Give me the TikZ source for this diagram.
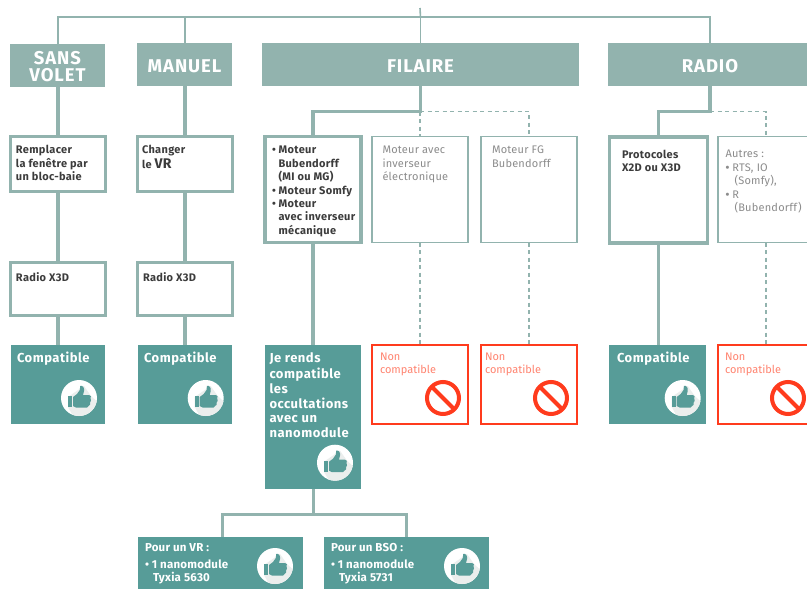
\documentclass[tikz,border=0pt]{standalone}
\usepackage{fontspec}
\setmainfont{Fira Sans}
\definecolor{lineC}{HTML}{92B3AE}
\definecolor{tealC}{HTML}{579C98}
\definecolor{redC}{HTML}{FF3B1D}
\definecolor{redT}{HTML}{FF8470}
\definecolor{greyT}{HTML}{8C8C8C}
\definecolor{darkT}{HTML}{3C3C3C}
\definecolor{shadeC}{HTML}{EBEEED}
\newcommand{\tbox}[9]{\node[#1,anchor=north west,inner sep=0pt,outer sep=0pt] (#2) at (#3,#4) {\parbox[c][#6pt][t]{#5pt}{\vspace*{#8pt}\leftskip=#7pt\rightskip=0pt plus 1fil\parindent=0pt\strut #9}};}
\newcommand{\thumbicon}[2]{\begin{scope}[shift={(#1,#2)}]
\fill[white] (0,0) circle (18);
\begin{scope}\clip (0,0) circle (18);
\fill[shadeC] (-11,9) -- (-11,-1) -- (5,-12) -- (12,-2) -- (25,10) -- (10,25) -- (-2,25) -- cycle;
\end{scope}
\fill[tealC] (-11,-2) rectangle (-7,9);
\fill[tealC] (-6,-1) -- (-2,-4) -- (0.8,-8) -- (1.2,-12) .. controls (4,-13) and (5.5,-10) .. (5,-7) -- (4,-3) -- (10,-3) .. controls (12,-3) and (12.5,-1) .. (11.5,0) .. controls (12.5,2) and (12,4) .. (11,4.5) .. controls (11.5,6) and (11,7.5) .. (9.5,8) .. controls (9.5,9) and (9,9.5) .. (8,9.5) -- (-3,9.5) -- (-6,8) -- cycle;
\end{scope}}
\newcommand{\noicon}[2]{\begin{scope}[shift={(#1,#2)}]
\draw[redC,line width=4pt] (0,0) circle (16);
\draw[redC,line width=4pt] (-11.3,-11.3) -- (11.3,11.3);
\end{scope}}
\newcommand{\hdstrut}{\rule{0pt}{16pt}}
\tikzset{
 x=1pt,y=-1pt,
 head/.style={fill=lineC,text=white,font=\fontsize{18.5}{17}\selectfont\bfseries\addfontfeature{LetterSpace=5},align=center,inner sep=0pt,outer sep=0pt},
 thickbox/.style={draw=lineC,line width=3.2pt,fill=white,text=darkT,font=\fontsize{11}{13.4}\selectfont\bfseries\addfontfeature{LetterSpace=3}},
 thinbox/.style={draw=lineC,line width=1.3pt,fill=white,text=greyT,font=\fontsize{11}{13.4}\selectfont\addfontfeature{LetterSpace=2}},
 okbox/.style={fill=tealC,text=white,font=\fontsize{13}{14.7}\selectfont\bfseries\addfontfeature{LetterSpace=4}},
 modbox/.style={fill=tealC,text=white,font=\fontsize{11.5}{13.4}\selectfont\bfseries\addfontfeature{LetterSpace=2}},
 nobox/.style={draw=redC,line width=1.5pt,fill=white,text=redT,font=\fontsize{11}{13.4}\selectfont},
 thickline/.style={draw=lineC,line width=3.6pt},
 thinline/.style={draw=lineC,line width=1.6pt},
 dashline/.style={draw=lineC,line width=1.3pt,dash pattern=on 4pt off 3.5pt},
}
\begin{document}
\begin{tikzpicture}
\clip (0,0) rectangle (807,589);
\fill[white] (0,0) rectangle (807,589);
% headers
\node[head,anchor=north west,minimum width=95pt,minimum height=43pt] (sv) at (10,44) {\hdstrut SANS\\VOLET};
\node[head,anchor=north west,minimum width=95pt,minimum height=43pt] (man) at (137,43) {\hdstrut MANUEL};
\node[head,anchor=north west,minimum width=317pt,minimum height=43pt] (fil) at (262,43) {\hdstrut FILAIRE};
\node[head,anchor=north west,minimum width=204pt,minimum height=43pt,text width=199pt] (rad) at (608,43) {\hdstrut RADIO};
% second row
\tbox{thickbox}{rem}{10.5}{136.5}{95}{55}{5.5}{8.1}{Remplacer\\la fenêtre par\\un bloc-baie}
\tbox{thickbox}{cha}{137.5}{136.5}{95}{55}{4.5}{8.1}{Changer\\le {\fontsize{14}{13}\selectfont VR}}
\tbox{thickbox}{mot}{265}{136.5}{96}{106}{7}{8.1}{• Moteur\\\hspace*{6.5pt}Bubendorff\\\hspace*{6.5pt}(MI ou MG)\\• Moteur Somfy\\• Moteur\\\hspace*{6.5pt}avec inverseur\\\hspace*{6.5pt}mécanique}
\tbox{thinbox}{inv}{372}{136.5}{96}{106}{10.5}{8.1}{Moteur avec\\inverseur\\électronique}
\tbox{thinbox}{fg}{481}{136.5}{96}{106}{11}{8.1}{Moteur FG\\Bubendorff}
\tbox{thickbox}{pro}{609.5}{137}{98}{106}{12.5}{11.7}{Protocoles\\X2D ou X3D}
\tbox{thinbox}{aut}{718}{136.5}{96}{106}{7.5}{12.1}{Autres :\\{\bfseries•} RTS, IO\\\hspace*{9pt}(Somfy),\\{\bfseries•} R\\\hspace*{9pt}(Bubendorff)}
% radio row
\tbox{thickbox}{rx1}{10.5}{262.5}{95}{53}{5.5}{9.2}{Radio X3D}
\tbox{thickbox}{rx2}{137.5}{262.5}{95}{53}{5.5}{9.2}{Radio X3D}
% result row
\tbox{okbox}{ok1}{11}{345}{94}{79}{6}{7}{Compatible}
\tbox{okbox}{ok2}{138}{345}{94}{79}{6}{7}{Compatible}
\tbox{okbox}{jer}{265}{345}{96}{144}{4.5}{7.5}{Je rends\\compatible\\les\\occultations\\avec un\\nanomodule}
\tbox{nobox}{no1}{372}{345}{96}{79}{8}{6}{Non\\compatible}
\tbox{nobox}{no2}{481}{345}{96}{79}{4}{6}{Non\\compatible}
\tbox{okbox}{ok3}{609}{345}{97}{79}{8}{7}{Compatible}
\tbox{nobox}{no3}{718}{345}{96}{79}{7}{6}{Non\\compatible}
% bottom
\tbox{modbox}{vr}{138}{537}{165}{52}{7}{5.5}{Pour un VR :\\[3pt]• 1 nanomodule\\\hspace*{8pt}Tyxia 5630}
\tbox{modbox}{bso}{324}{537}{165}{52}{7}{5.5}{Pour un BSO :\\[3pt]• 1 nanomodule\\\hspace*{8pt}Tyxia 5731}
% connector coordinates
\coordinate (topEnd) at (420,8);
\coordinate (barY) at (420,17);
\coordinate (filY) at (420,111.5);
\coordinate (radY) at (710,111.5);
\coordinate (jerY) at (313,514);
% top bar
\draw[thinline] (topEnd) -- (barY -| fil.north);
\draw[thinline] (barY -| fil.north) -- (fil.north);
\draw[thinline] (rem.north |- sv.north) |- (barY);
\draw[thinline] (barY) -| (rad.north);
\draw[thinline] (cha.north |- barY) -- (cha.north |- man.north);
% columns
\draw[thickline] (rem.north |- sv.south) -- (rem.north);
\draw[thickline] (rem.south) -- (rx1.north);
\draw[thickline] (rx1.south) -- (rx1.south |- ok1.north);
\draw[thickline] (cha.north |- man.south) -- (cha.north);
\draw[thickline] (cha.south) -- (rx2.north);
\draw[thickline] (rx2.south) -- (rx2.south |- ok2.north);
% filaire
\draw[dashline] (filY) -| (fg.north);
\draw[dashline] (filY) -- (inv.north);
\draw[dashline] (inv.south) -- (no1.north);
\draw[dashline] (fg.south) -- (no2.north);
\draw[thickline,line join=miter] (fil.south) |- (filY -| mot.north) -- (mot.north);
\draw[thickline] (mot.south) -- (jer.north);
% radio
\draw[dashline] (radY) -| (aut.north);
\draw[dashline] (aut.south) -- (no3.north);
\draw[thickline,line join=miter] (rad.south) |- (radY -| pro.north) -- (pro.north);
\draw[thickline] (pro.south) -- (pro.south |- ok3.north);
% bottom tree
\draw[thickline,line width=3pt,line join=miter] (jer.south) -- (jerY);
\draw[thickline,line width=3pt,line join=miter] (vr.north -| 222,0) |- (jerY) -| (bso.north -| 406,0);
% icons
\thumbicon{79}{398}
\thumbicon{205.7}{398}
\thumbicon{335}{462.7}
\thumbicon{682.7}{398}
\thumbicon{275}{566}
\thumbicon{462}{566}
\noicon{443}{398}
\noicon{551}{398}
\noicon{788}{398}
\end{tikzpicture}
\end{document}
